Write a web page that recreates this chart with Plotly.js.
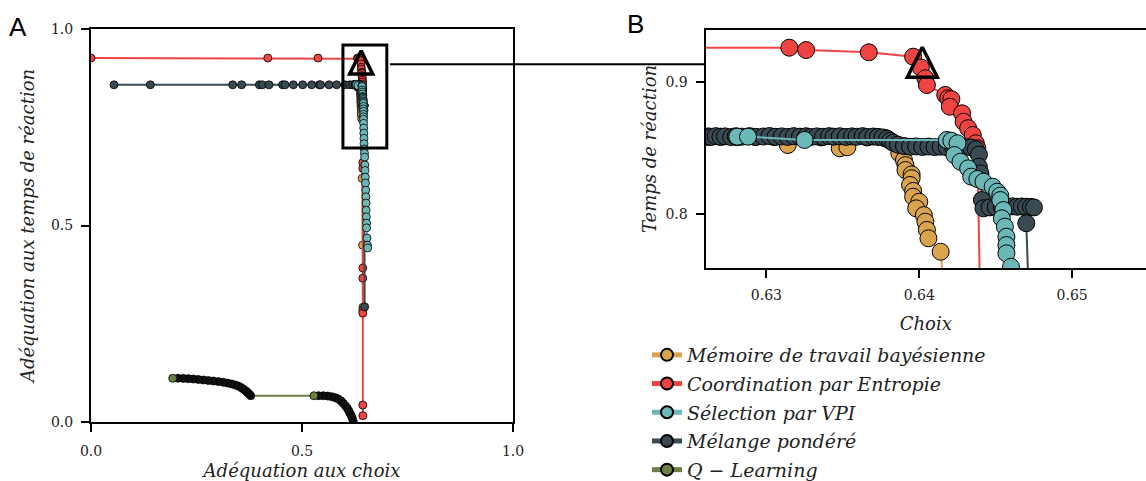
<!DOCTYPE html>
<html><head><meta charset="utf-8">
<script src="https://cdn.plot.ly/plotly-3.0.1.min.js"></script>
<style>html,body{margin:0;padding:0;overflow:hidden;background:#fff;width:1146px;height:481px}#chart{position:absolute;left:0;top:0;width:1146px;height:481px}</style>
</head><body><div id="chart"></div>
<script>
// ---------- data ----------
const seriesNames = ['Mémoire de travail bayésienne', 'Coordination par Entropie', 'Sélection par VPI', 'Mélange pondéré', 'Q − Learning'];

const memX = [0.6262,0.6270,0.6281,0.6293,0.6305,0.6314,0.6323,0.6336,0.6348,0.6353,0.6366,0.6378,0.6387,0.6390,0.6391,0.6391,0.6395,0.6395,0.6394,0.6396,0.6396,0.6400,0.6398,0.6403,0.6404,0.6405,0.6406,0.6414,0.6425,0.6435,0.6445];
const memY = [0.8583,0.8585,0.8582,0.8584,0.8583,0.8523,0.8582,0.8580,0.8498,0.8506,0.8580,0.8575,0.8460,0.8409,0.8370,0.8333,0.8300,0.8271,0.8220,0.8175,0.8131,0.8093,0.8043,0.7992,0.7942,0.7880,0.7816,0.7714,0.6200,0.4500,0.2920];

const coordX = [0,0.419,0.538,0.6315,0.6326,0.6367,0.6396,0.6401,0.6404,0.6405,0.6417,0.6419,0.6421,0.6420,0.6428,0.6429,0.6432,0.6435,0.6437,0.6438,0.6441,0.6441,0.6441,0.6441,0.6441,0.6441,0.6441,0.6441];
const coordY = [0.926,0.926,0.926,0.9260,0.9242,0.9225,0.9192,0.9110,0.9028,0.8977,0.8902,0.8877,0.8870,0.8813,0.8763,0.8699,0.8650,0.8599,0.8536,0.8498,0.6600,0.6450,0.3920,0.3660,0.2850,0.2770,0.0430,0.0160];

const mixX = [0.0545,0.1406,0.3357,0.3570,0.3990,0.4060,0.4218,0.4540,0.4597,0.4795,0.5016,0.5230,0.5410,0.5440,0.5640,0.5820,0.6020,0.6130,0.6200,
  0.6258,0.6262,0.6264,0.6267,0.6270,0.6273,0.6277,0.6280,0.6284,0.6289,0.6293,0.6298,0.6302,0.6306,0.6310,0.6314,0.6318,0.6322,0.6326,0.6329,0.6333,0.6337,0.6341,0.6344,0.6348,0.6352,0.6356,0.6359,0.6363,0.6366,0.6370,0.6373,0.6376,0.6379,0.6381,0.6383,
  0.6386,0.6390,0.6394,0.6398,0.6402,0.6406,0.6410,0.6414,0.6418,0.6422,0.6426,0.6430,0.6434,0.6437,0.6439,
  0.6439,0.6440,0.6441,0.6442,0.6446,0.6450,0.6454,0.6458,0.6461,0.6464,0.6467,0.6470,0.6473,0.6475,0.6470,0.6485];
const mixY = [0.858,0.858,0.858,0.858,0.858,0.858,0.858,0.858,0.858,0.858,0.858,0.858,0.858,0.858,0.858,0.858,0.858,0.858,0.858,
  0.8586,0.8588,0.8584,0.8590,0.8585,0.8588,0.8583,0.8589,0.8586,0.8590,0.8584,0.8587,0.8591,0.8585,0.8588,0.8584,0.8590,0.8586,0.8589,0.8583,0.8588,0.8585,0.8590,0.8586,0.8589,0.8584,0.8588,0.8585,0.8590,0.8583,0.8587,0.8584,0.8580,0.8570,0.8555,0.8540,
  0.8525,0.8515,0.8510,0.8512,0.8508,0.8511,0.8507,0.8510,0.8506,0.8509,0.8505,0.8508,0.8504,0.8490,0.8450,
  0.8358,0.8308,0.8106,0.8043,0.8050,0.8052,0.8055,0.8056,0.8058,0.8055,0.8057,0.8055,0.8054,0.8050,0.7930,0.2930];

const vpiX = [0.6281,0.6288,0.6325,0.6418,0.6421,0.6425,0.6423,0.6427,0.6432,0.6434,0.6438,0.6442,0.6448,0.6451,0.6453,0.6453,0.6455,0.6454,0.6456,0.6457,0.6457,0.6457,
  0.6460,0.6462,0.6465,0.6468,0.6470,0.6475,0.6480,0.6485,0.6490,0.6495,0.6500,0.6505,0.6510,0.6515,0.6520,0.6520,0.6525,0.6530,0.6530,0.6540,0.6550,0.6555];
const vpiY = [0.8586,0.8586,0.8561,0.8561,0.8555,0.8536,0.8447,0.8396,0.8346,0.8283,0.8265,0.8245,0.8207,0.8169,0.8140,0.8106,0.8030,0.7967,0.7904,0.7828,0.7765,0.7702,
  0.760,0.748,0.735,0.722,0.708,0.695,0.684,0.674,0.654,0.640,0.623,0.608,0.590,0.573,0.557,0.539,0.522,0.506,0.494,0.468,0.450,0.443];

const qX = [0.6216,0.6192,0.6166,0.6137,0.6108,0.6073,0.6028,0.5979,0.5925,0.5860,0.5790,0.5704,0.5610,0.5505,0.5395,0.5284,
  0.3784,0.3746,0.3704,0.3660,0.3609,0.3553,0.3491,0.3415,0.3334,0.3236,0.3135,0.3016,0.2898,0.2780,0.2661,0.2542,0.2424,0.2305,0.2187,0.2060,0.1936];
const qY = [0.0008,0.0094,0.0158,0.0221,0.0285,0.0349,0.0415,0.0476,0.0535,0.0585,0.0618,0.0644,0.0660,0.0669,0.0669,0.0669,
  0.0669,0.0712,0.0756,0.0798,0.0840,0.0880,0.0916,0.0943,0.0967,0.0990,0.1010,0.1028,0.1043,0.1056,0.1069,0.1082,0.1094,0.1103,0.1110,0.1112,0.1112];

const bestX = [0.6402];
const bestY = [0.915];

const zoomBoxX = [0.597, 0.701];
const zoomBoxY = [0.697, 0.959];

const xTicksA = [0, 0.5, 1];
const yTicksA = [0, 0.5, 1];
const xTicksB = [0.63, 0.64, 0.65];
const yTicksB = [0.8, 0.9];

// ---------- styling ----------
const colors = ['#DAA44F', '#F04442', '#6CB7B8', '#3A4A52', '#6C8046'];
const W = 1146, H = 481;
const serif = 'DejaVu Serif';

// Q-learning: dense overlapping markers appear black; the last-drawn (leftmost) one of each run shows its face.
const qColors = qX.map((x, i) => (i === qX.length - 1 || x - qX[i + 1] > 0.05) ? colors[4] : '#111111');

const order = [
  {k: 0, x: memX, y: memY},
  {k: 1, x: coordX, y: coordY},
  {k: 3, x: mixX, y: mixY},
  {k: 2, x: vpiX, y: vpiY},
  {k: 4, x: qX, y: qY}
];
const rank = [1, 2, 3, 4, 5];

const traces = [];
order.forEach(s => {
  traces.push({
    type: 'scatter', mode: 'lines+markers', x: s.x, y: s.y, xaxis: 'x', yaxis: 'y',
    name: seriesNames[s.k], legendgroup: 'g' + s.k, showlegend: false,
    line: {color: colors[s.k], width: 2},
    marker: {size: 8, color: s.k === 4 ? qColors : colors[s.k], line: {color: '#000', width: 0.8}},
    hoverinfo: 'skip'
  });
});
order.forEach(s => {
  traces.push({
    type: 'scatter', mode: 'lines+markers', x: s.x, y: s.y, xaxis: 'x2', yaxis: 'y2',
    name: seriesNames[s.k], legendgroup: 'g' + s.k, showlegend: true, legendrank: rank[s.k],
    line: {color: colors[s.k], width: 2},
    marker: {size: 17, color: colors[s.k], line: {color: '#000', width: 1}},
    hoverinfo: 'skip'
  });
});
// best point triangle
[['x', 'y', 23], ['x2', 'y2', 30]].forEach(([xa, ya, sz]) => {
  traces.push({
    type: 'scatter', mode: 'markers', x: bestX, y: bestY, xaxis: xa, yaxis: ya, showlegend: false,
    marker: {symbol: 'arrow-down', angle: 180, standoff: sz / 2, size: sz, color: 'rgba(0,0,0,0)', line: {color: '#000', width: 3.5}},
    hoverinfo: 'skip'
  });
});

const tickFont = {family: serif, size: 14, color: '#222'};
const titleFont = {family: serif, size: 18, style: 'italic', color: '#222'};
const axBase = {
  showline: true, linecolor: '#000', linewidth: 2, mirror: true,
  ticks: 'outside', ticklen: 8, tickwidth: 2, tickcolor: '#000',
  tickfont: tickFont, showgrid: false, zeroline: false, fixedrange: true, ticklabelstandoff: 5, automargin: false
};

const layout = {
  width: W, height: H, margin: {l: 0, r: 0, t: 0, b: 0, autoexpand: false},
  paper_bgcolor: '#fff', plot_bgcolor: '#fff', showlegend: true,
  xaxis: Object.assign({}, axBase, {domain: [91 / W, 513 / W], range: [0, 1], anchor: 'y', tickmode: 'array', tickvals: xTicksA, tickformat: '.1f',
    ticklabelstandoff: 7, title: {text: 'Adéquation aux choix', font: titleFont, standoff: 19}}),
  yaxis: Object.assign({}, axBase, {domain: [59 / H, 452 / H], range: [0, 1], anchor: 'x', tickmode: 'array', tickvals: yTicksA, tickformat: '.1f',
    title: {text: 'Adéquation aux temps de réaction', font: titleFont, standoff: 12}}),
  xaxis2: Object.assign({}, axBase, {domain: [705.5 / W, 1], range: [0.62602, 0.62602 + (W - 705.5) / 15290], anchor: 'y2', tickmode: 'array', tickvals: xTicksB, tickformat: '.2f',
    ticklabelstandoff: 5, title: {text: 'Choix', font: titleFont, standoff: 16}}),
  yaxis2: Object.assign({}, axBase, {mirror: false, domain: [213 / H, 451 / H], range: [0.7591, 0.9394], anchor: 'x2', tickmode: 'array', tickvals: yTicksB, tickformat: '.1f',
    title: {text: 'Temps de réaction', font: titleFont, standoff: 4}}),
  legend: {x: 647 / W, y: (H - 336) / H, xanchor: 'left', yanchor: 'top', bgcolor: 'rgba(0,0,0,0)',
    font: {family: serif, size: 19, style: 'italic', color: '#222'}, itemsizing: 'constant', tracegroupgap: 1},
  shapes: [
    {type: 'rect', xref: 'x', yref: 'y', x0: zoomBoxX[0], x1: zoomBoxX[1], y0: zoomBoxY[0], y1: zoomBoxY[1],
      line: {color: '#000', width: 3}, fillcolor: 'rgba(0,0,0,0)', layer: 'above'},
    {type: 'line', xref: 'paper', yref: 'paper', x0: 390 / W, x1: 705.5 / W, y0: (H - 64.3) / H, y1: (H - 64.3) / H,
      line: {color: '#000', width: 2}, layer: 'above'}
  ],
  annotations: [
    {text: 'A', xref: 'paper', yref: 'paper', x: 18 / W, y: (H - 27) / H, xanchor: 'center', yanchor: 'middle', showarrow: false,
      font: {family: 'Liberation Sans', size: 26, color: '#000'}},
    {text: 'B', xref: 'paper', yref: 'paper', x: 635 / W, y: (H - 24) / H, xanchor: 'center', yanchor: 'middle', showarrow: false,
      font: {family: 'Liberation Sans', size: 26, color: '#000'}}
  ]
};

Plotly.newPlot('chart', traces, layout, {displayModeBar: false, staticPlot: true});
</script>
</body></html>
